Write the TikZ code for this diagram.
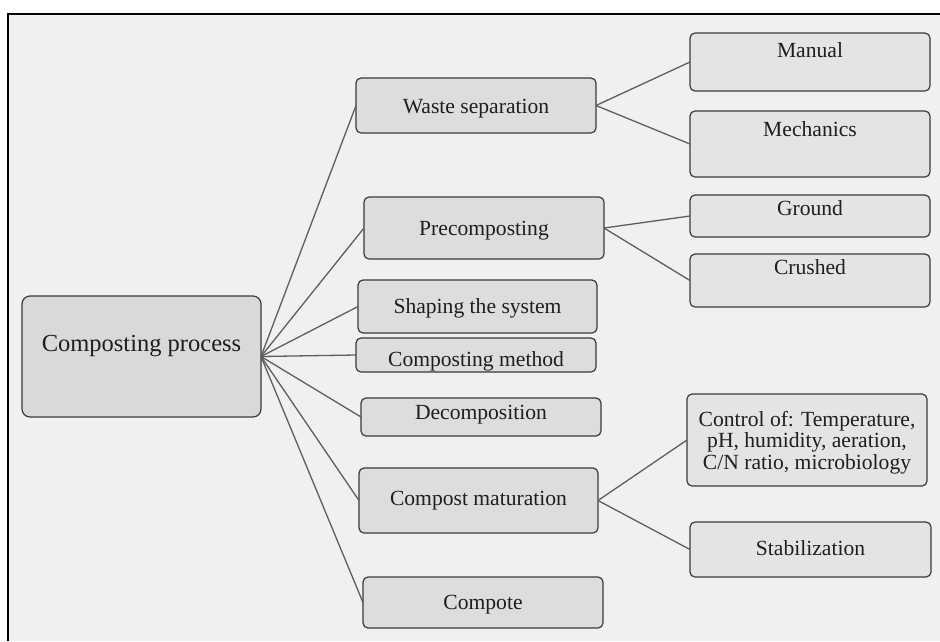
\documentclass[tikz,border=0pt]{standalone}
\usepackage{fontspec}
\setmainfont{Liberation Serif}
\definecolor{bgc}{HTML}{F0F0F0}
\definecolor{mainfill}{HTML}{D9D9D9}
\definecolor{lvlone}{HTML}{DDDDDD}
\definecolor{lvltwo}{HTML}{E4E4E4}
\definecolor{edgec}{HTML}{3A3A3A}
\definecolor{linkc}{HTML}{5E5E5E}
\definecolor{txtc}{HTML}{1E1E1E}
\tikzset{
  boxbase/.style={draw=edgec, line width=1.2pt, inner sep=0pt, outer sep=0pt, rounded corners=5pt},
  mainbox/.style={boxbase, fill=mainfill, rounded corners=8pt},
  onebox/.style={boxbase, fill=lvlone},
  twobox/.style={boxbase, fill=lvltwo},
  txt/.style={inner sep=0pt, outer sep=0pt, text=txtc, font=\fontsize{21.6}{21.7}\selectfont, anchor=base},
  link/.style={draw=linkc, line width=1.3pt}
}
\newcommand{\mybox}[6]{% style, name, x1, y1, x2, y2
  \node[#1, minimum width={(#5-#3)*1pt}, minimum height={(#6-#4)*1pt}] (#2) at ({(#3+#5)/2},{(#4+#6)/2}) {};}
\begin{document}
\begin{tikzpicture}[x=1pt, y=-1pt]
\useasboundingbox (0,0) rectangle (940,641);
\fill[bgc] (8,14) rectangle (940,641);
\draw[black, line width=2pt] (8,641) -- (8,14) -- (940,14);

% boxes
\mybox{mainbox}{main}{22}{296}{261}{417}
\mybox{onebox}{ws}{356}{78}{596}{133}
\mybox{onebox}{pre}{364}{197}{604}{259}
\mybox{onebox}{shape}{358}{280}{597}{333}
\mybox{onebox}{method}{356}{338}{596}{372}
\mybox{onebox}{decomp}{361}{398}{601}{436}
\mybox{onebox}{matur}{359}{468}{598}{533}
\mybox{onebox}{compote}{363}{577}{603}{628}
\mybox{twobox}{manual}{690}{33}{930}{91}
\mybox{twobox}{mech}{690}{111}{930}{177}
\mybox{twobox}{ground}{690}{195}{930}{237}
\mybox{twobox}{crushed}{690}{254}{930}{307}
\mybox{twobox}{control}{687}{394}{927}{486}
\mybox{twobox}{stab}{690}{522}{931}{577}

% texts
\node[txt, font=\fontsize{24.5}{25}\selectfont] (t-main) at (141.5,351.7) {Composting process};
\node[txt] (t-ws) at (476,113.3) {Waste separation};
\node[txt] (t-pre) at (484,235) {Precomposting};
\node[txt] (t-shape) at (477.5,313) {Shaping the system};
\node[txt] (t-method) at (476,366) {Composting method};
\node[txt] (t-decomp) at (481,419.3) {Decomposition};
\node[txt] (t-matur) at (478.5,505.7) {Compost maturation};
\node[txt] (t-compote) at (483,609.3) {Compote};
\node[txt] (t-manual) at (810,57.3) {Manual};
\node[txt] (t-mech) at (810,136.7) {Mechanics};
\node[txt] (t-ground) at (810,215.3) {Ground};
\node[txt] (t-crushed) at (810,274.3) {Crushed};
\node[txt, anchor=north, align=center] (t-control) at (807,411) {Control of: Temperature,\\pH, humidity, aeration,\\C/N ratio, microbiology};
\node[txt] (t-stab) at (810.5,555.7) {Stabilization};

% connectors
\foreach \c in {ws,pre,shape,method,decomp,matur,compote}
  \draw[link] (main.east) -- (\c.west);
\draw[link] (ws.east) -- (manual.west);
\draw[link] (ws.east) -- (mech.west);
\draw[link] (pre.east) -- (ground.west);
\draw[link] (pre.east) -- (crushed.west);
\draw[link] (matur.east) -- (control.west);
\draw[link] (matur.east) -- (stab.west);
\end{tikzpicture}
\end{document}
